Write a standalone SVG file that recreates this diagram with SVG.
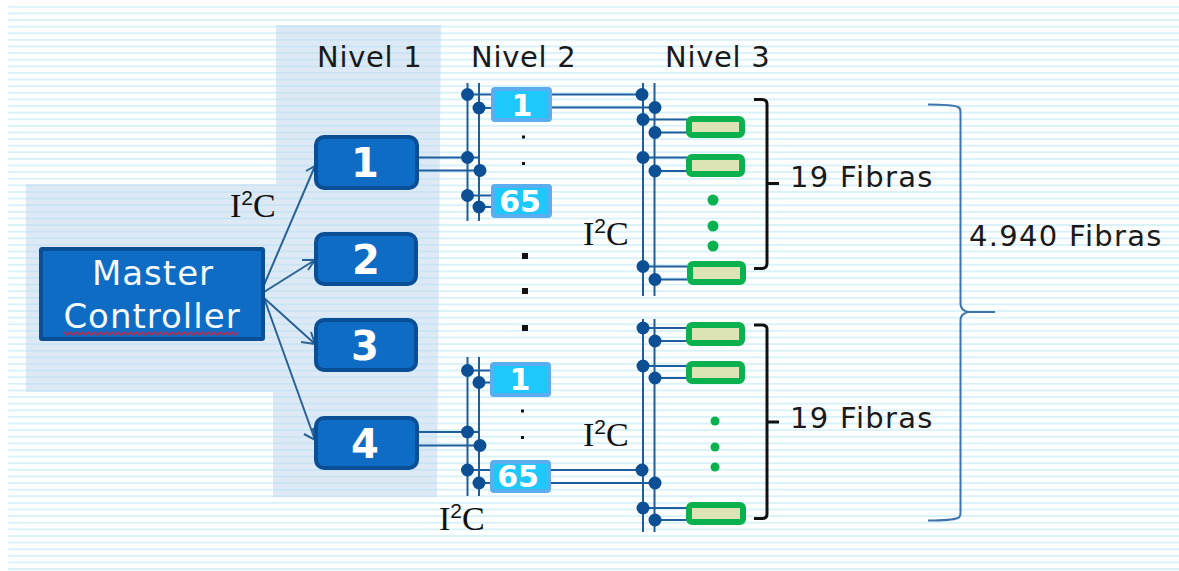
<svg xmlns="http://www.w3.org/2000/svg" width="1179" height="571" viewBox="0 0 1179 571">
<style>
.lbl{font-family:"DejaVu Sans",Verdana,sans-serif;font-size:29px;letter-spacing:1.300px;fill:#1a1a1a}
.niv{letter-spacing:.7px}
.i2c{font-family:"Liberation Serif","DejaVu Serif",serif;font-size:34px;fill:#111}
.i2c .s{font-size:21px;font-family:"Liberation Sans",sans-serif}
.big{font-family:"DejaVu Sans",Verdana,sans-serif;font-weight:bold;font-size:40px;fill:#fff;text-anchor:middle}
.mid{font-family:"DejaVu Sans",Verdana,sans-serif;font-weight:bold;font-size:30px;fill:#fff;text-anchor:middle}
.mc{font-family:"DejaVu Sans",Verdana,sans-serif;font-size:34px;letter-spacing:1px;fill:#f4f9ff;text-anchor:middle}
.l1{fill:#0f6cc4;stroke:#0a4f95;stroke-width:4}
.l2{fill:#1fc8fb;stroke:#5aaef0;stroke-width:4}
.l3{fill:#dce3b4;stroke:#0bb14f;stroke-width:6}
.bus{stroke:#1f5e9e;stroke-width:2;fill:none}
.arr{stroke:#2a6296;stroke-width:2;fill:none}
.dot{fill:#0d4f94}
.gd{fill:#0bb14f}
.bd{fill:#111}
.br{stroke:#111;stroke-width:3;fill:none}
</style>
<defs>
<pattern id="st" patternUnits="userSpaceOnUse" width="20" height="6.615" y="5.800">
<rect width="20" height="6.615" fill="#fff"/>
<rect y="0" width="20" height="1.900" fill="#d9f2fa"/>
</pattern>
</defs>
<rect width="1179" height="571" fill="#fff"/>
<rect x="8" y="5.800" width="1171" height="565" fill="url(#st)"/>
<g id="panels" fill="#bcd5ee" fill-opacity="0.5">
<path d="M276 25H441L437 497H273V392H26V184H276Z"/>
</g>
<g id="connectors">
<path class="bus" d="M467.500 83V221M479 83V221M467.500 357V496M479 357V496M643 83V296M654.500 83V296M643 319V532M654.500 319V532"/>
<path class="bus" d="M418 157.500H480M418 170.500H480M417 432H480M417 445.500H480M467.500 94.500H492M479 108H492M467.500 195.500H492M479 207H492M467.500 370.500H491M479 382.500H491M467.500 470H491M479 483H491"/>
<path class="bus" d="M551 94.500H642M551 107.500H655M549 470H642M549 483H655"/>
<path class="bus" d="M643 119.500H687M655 132.500H687M643 157.500H687M655 171H687M643 266.500H687M655 279.500H687M643 328H687M655 341H687M643 366H687M655 378H687M643 508H687M655 520H687"/>
<path class="arr" d="M264 285L315 166M306 171L315 166L315 176M264 292L315 260M302 260L315 260L308 270M264 298L315 344M301 342L315 344L311 332M264 298L315 440M313 428L315 440L304 434"/>
<g class="dot">
<circle cx="467.500" cy="94.500" r="6.500"/><circle cx="479" cy="108" r="6.500"/><circle cx="467.500" cy="157.500" r="6.500"/><circle cx="480" cy="170.500" r="6.500"/><circle cx="467.500" cy="195.500" r="6.500"/><circle cx="479" cy="207" r="6.500"/>
<circle cx="467.500" cy="370.500" r="6.500"/><circle cx="479" cy="382.500" r="6.500"/><circle cx="467.500" cy="432" r="6.500"/><circle cx="480" cy="445.500" r="6.500"/><circle cx="467.500" cy="470" r="6.500"/><circle cx="479" cy="483" r="6.500"/>
<circle cx="642" cy="94.500" r="6.500"/><circle cx="655" cy="107.500" r="6.500"/><circle cx="643" cy="119.500" r="6.500"/><circle cx="655" cy="132.500" r="6.500"/><circle cx="643" cy="157.500" r="6.500"/><circle cx="655" cy="171" r="6.500"/><circle cx="643" cy="266.500" r="6.500"/><circle cx="655" cy="279.500" r="6.500"/>
<circle cx="643" cy="328" r="6.500"/><circle cx="655" cy="341" r="6.500"/><circle cx="643" cy="366" r="6.500"/><circle cx="655" cy="378" r="6.500"/><circle cx="642" cy="470" r="6.500"/><circle cx="655" cy="483" r="6.500"/><circle cx="643" cy="508" r="6.500"/><circle cx="655" cy="520" r="6.500"/>
</g>
</g>
<g id="master">
<rect x="41" y="249" width="222" height="90" rx="1" class="l1"/>
<text class="mc" x="153" y="285">Master</text>
<text class="mc" x="152" y="328">Controller</text>
<path d="M64 332l3 3 3-3 3 3 3-3 3 3 3-3 3 3 3-3 3 3 3-3 3 3 3-3 3 3 3-3 3 3 3-3 3 3 3-3 3 3 3-3 3 3 3-3 3 3 3-3 3 3 3-3 3 3 3-3 3 3 3-3 3 3 3-3 3 3 3-3 3 3 3-3 3 3 3-3 3 3 3-3 3 3 3-3 3 3 3-3 3 3 3-3 3 3 3-3 3 3 3-3 3 3 3-3 3 3 3-3 3 3 3-3 3 3 3-3" fill="none" stroke="#d0213c" stroke-width="1.300"/>
</g>
<g id="n1-1"><rect x="316" y="137" width="101" height="51" rx="8" class="l1"/><text class="big" x="365" y="177">1</text></g>
<g id="n1-2"><rect x="316" y="234" width="100" height="50" rx="8" class="l1"/><text class="big" x="366" y="274">2</text></g>
<g id="n1-3"><rect x="316" y="320" width="100" height="50" rx="8" class="l1"/><text class="big" x="365" y="360">3</text></g>
<g id="n1-4"><rect x="316" y="418" width="101" height="50" rx="8" class="l1"/><text class="big" x="365" y="458">4</text></g>
<g id="n2-1a"><rect x="493" y="89" width="57" height="31" rx="2" class="l2"/><text class="mid" x="522" y="116">1</text></g>
<g id="n2-65a"><rect x="493" y="186" width="57" height="30" rx="2" class="l2"/><text class="mid" x="520" y="212">65</text></g>
<g id="n2-1b"><rect x="492" y="364" width="57" height="31" rx="2" class="l2"/><text class="mid" x="520" y="390">1</text></g>
<g id="n2-65b"><rect x="492" y="462" width="57" height="29" rx="2" class="l2"/><text class="mid" x="518" y="487">65</text></g>
<g id="n3-1"><rect x="689" y="119" width="53" height="16" rx="3" class="l3"/></g>
<g id="n3-2"><rect x="689" y="157" width="53" height="17" rx="3" class="l3"/></g>
<g id="n3-3"><rect x="690" y="264" width="53" height="18" rx="3" class="l3"/></g>
<g id="n3-4"><rect x="689" y="325" width="53" height="18" rx="3" class="l3"/></g>
<g id="n3-5"><rect x="689" y="364" width="53" height="17" rx="3" class="l3"/></g>
<g id="n3-6"><rect x="689" y="505" width="54" height="17" rx="3" class="l3"/></g>
<g id="dots">
<circle class="gd" cx="713" cy="200" r="5.500"/><circle class="gd" cx="713" cy="226" r="5.500"/><circle class="gd" cx="713" cy="246" r="5.500"/>
<circle class="gd" cx="715" cy="421" r="4.500"/><circle class="gd" cx="715" cy="447" r="4.500"/><circle class="gd" cx="715" cy="467" r="4.500"/>
<rect class="bd" x="522" y="135.500" width="3" height="3"/><rect class="bd" x="522" y="162" width="3" height="3"/>
<rect class="bd" x="522" y="253" width="6" height="6"/><rect class="bd" x="522" y="288" width="6" height="6"/><rect class="bd" x="522" y="325" width="6" height="6"/>
<rect class="bd" x="521" y="409.500" width="3" height="3"/><rect class="bd" x="521" y="436" width="3" height="3"/>
</g>
<g id="brackets">
<path class="br" d="M754 99.500H762Q767 99.500 767 104V263Q767 268.500 762 268.500H754M767 183.500H779"/>
<path class="br" d="M754 325H762Q767 325 767 329V514Q767 518.500 762 518.500H754M767 422H779"/>
<path d="M928 104.500Q952 104.500 958 107Q960.500 108 960.500 112V304Q960.500 310 968 312H995M968 312Q960.500 314 960.500 320V512Q960.500 517 958 518Q952 520.500 928 520.500" fill="none" stroke="#3f74ab" stroke-width="2"/>
</g>
<g id="labels">
<text class="lbl niv" x="317" y="67">Nivel 1</text>
<text class="lbl niv" x="471" y="67">Nivel 2</text>
<text class="lbl niv" x="665" y="67">Nivel 3</text>
<text class="lbl" x="790" y="187">19 Fibras</text>
<text class="lbl" x="790" y="428">19 Fibras</text>
<text class="lbl" x="969" y="246">4.940 Fibras</text>
<text class="i2c" x="230" y="217">I<tspan class="s" dy="-12">2</tspan><tspan dy="12">C</tspan></text>
<text class="i2c" x="583" y="245">I<tspan class="s" dy="-12">2</tspan><tspan dy="12">C</tspan></text>
<text class="i2c" x="583" y="446">I<tspan class="s" dy="-12">2</tspan><tspan dy="12">C</tspan></text>
<text class="i2c" x="439" y="530">I<tspan class="s" dy="-12">2</tspan><tspan dy="12">C</tspan></text>
</g>
</svg>
